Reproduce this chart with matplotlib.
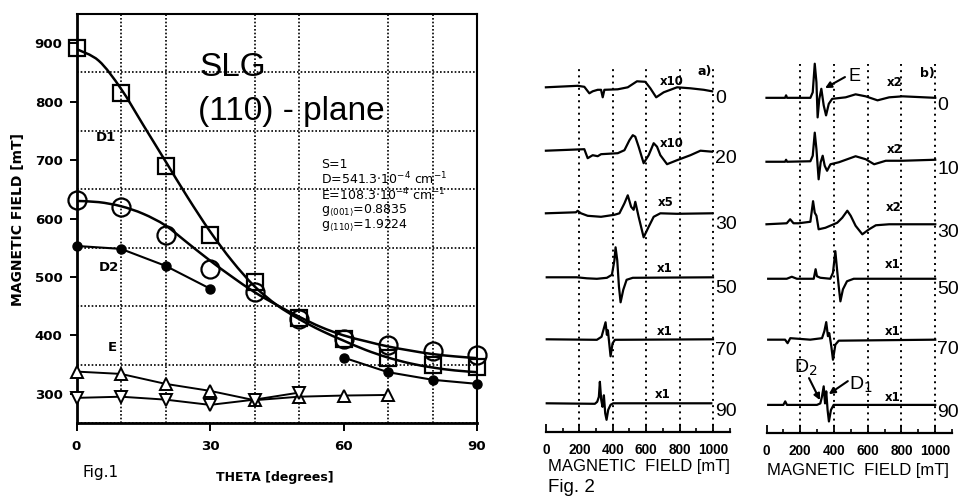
import numpy as np
import matplotlib
matplotlib.use("Agg")
import matplotlib.pyplot as plt
from matplotlib.path import Path
from matplotlib.patches import PathPatch

plt.rcParams["font.family"] = ["Liberation Sans", "DejaVu Sans"]
plt.rcParams["mathtext.fontset"] = "custom"
plt.rcParams["mathtext.rm"] = "DejaVu Sans"
plt.rcParams["mathtext.it"] = "DejaVu Sans:italic"
plt.rcParams["mathtext.bf"] = "DejaVu Sans:bold"

# ---------------- Fig.1 data ----------------
THETA = [0, 10, 20, 30, 40, 50, 60, 70, 80, 90]
SQUARE = [891, 815, 690, 572, 492, 430, 394, 362, 350, 345]
CIRCLE = [631, 619, 571, 514, 474, 428, 394, 384, 373, 367]
D2_THETA_LOW = [0, 10, 20, 30]
D2_LOW = [553, 548, 519, 480]
D2_THETA_HIGH = [60, 70, 80, 90]
D2_HIGH = [362, 337, 324, 317]
E_UP_THETA = [0, 10, 20, 30, 40, 50, 60, 70]
E_UP = [338, 334, 317, 305, 289, 295, 297, 298]
E_DOWN_THETA = [0, 10, 20, 30, 40, 50]
E_DOWN = [293, 295, 290, 281, 290, 302]
FIT_THETA = [0, 5, 10, 15, 20, 25, 30, 35, 40, 45, 50, 55, 60, 65, 70, 75, 80, 85, 90]
SQUARE_FIT = [890, 870, 822, 760, 698, 636, 578, 527, 484, 452, 428, 408, 391, 375, 362, 352, 345, 340, 337]
CIRCLE_FIT = [630, 628, 621, 608, 588, 558, 528, 500, 474, 452, 432, 414, 400, 390, 381, 374, 368, 364, 361]
FIG1_XTICKS = [0, 30, 60, 90]
FIG1_YTICKS = [300, 400, 500, 600, 700, 800, 900]
PARAM_LINES = ["S=1",
               r"D=541.3$\cdot$10$^{-4}$ cm$^{-1}$",
               r"E=108.3$\cdot$10$^{-4}$ cm$^{-1}$",
               r"g$_{\langle001\rangle}$=0.8835",
               r"g$_{\langle110\rangle}$=1.9224"]

# ---------------- Fig.2 data (field in mT, signal in arbitrary units) ----------------
A_ANGLES = ["0", "20", "30", "50", "70", "90"]
A_GAINS = ["x10", "x10", "x5", "x1", "x1", "x1"]
A0_F = [0, 190, 230, 260, 280, 310, 330, 340, 350, 430, 490, 545, 595, 625, 660, 705, 785, 865, 945, 995]
A0_Y = [0, 1.5, 0.5, -6, -4, -2.5, -2.5, -10, -2.5, -2, 0, 6, 5.5, -1, -10, -5, 0, -1, -2.5, -4]
A20_F = [0, 230, 250, 280, 310, 330, 430, 470, 500, 520, 535, 555, 585, 615, 645, 665, 685, 725, 785, 865, 925, 995]
A20_Y = [0, 1.5, -7.5, -4.5, -5.5, -3.5, -2.5, 0.5, 10.5, 15.5, 14, 4, -12.5, -4.5, 7.5, 4, -4.5, -13.5, -9.5, -4.5, 0, -1]
A30_F = [0, 180, 190, 210, 250, 330, 410, 440, 470, 490, 510, 525, 535, 555, 585, 615, 645, 685, 785, 995]
A30_Y = [0, 1, 2.5, 0, -2.5, -3.5, -1.5, 0, 10, 18, 6.5, 3.5, 11.5, -3.5, -24, -13.5, -3.5, 0, -0.5, 0]
A50_F = [5, 185, 245, 305, 365, 395, 410, 417, 427, 437, 447, 463, 483, 520, 1000]
A50_Y = [0, 0, -1, -1.5, -0.5, 2.5, 17, 30, 17, -9, -25, -12.5, -2.5, -0.5, 0]
A70_F = [5, 305, 333, 347, 357, 365, 371, 379, 387, 399, 413, 1000]
A70_Y = [0, -0.5, 2.5, 11, 17, 4.5, 9, -4, -17, -4, -0.5, 0]
A90_F = [5, 293, 307, 317, 323, 331, 339, 347, 355, 363, 373, 387, 403, 990]
A90_Y = [0, -0.5, 1.5, 6.5, 21.5, 3.5, -3.5, 8, -10, -16.5, -6.5, -1.5, 0, 0]

B_ANGLES = ["0", "10", "30", "50", "70", "90"]
B_GAINS = ["x2", "x2", "x2", "x1", "x1", "x1"]
B0_F = [0, 110, 116, 122, 260, 274, 286, 296, 303, 313, 325, 339, 353, 369, 389, 469, 528, 588, 658, 727, 807, 1000]
B0_Y = [0, 0, 2.5, 0, 0, 5.5, 34, 15.5, -19.5, -1, 9, -7.5, -17.5, -6, -1, 0.5, 3.5, 1.5, -2.5, 0.5, 1.5, 0]
B10_F = [0, 110, 116, 122, 260, 274, 286, 296, 309, 321, 333, 345, 359, 379, 429, 528, 588, 638, 707, 807, 1000]
B10_Y = [0, 0, 2, 0, 0.5, 6, 29, 12.5, -17.5, -0.5, 6, -4, -9, -2.5, -0.5, 5.5, 2.5, -2.5, 1, 1, 2]
B30_F = [0, 120, 140, 160, 190, 260, 276, 286, 296, 309, 349, 419, 449, 479, 499, 528, 568, 608, 648, 727, 1000]
B30_Y = [0, 1, 5, 1, 1, 2.5, 23, 11.5, 8.5, -5, -3.5, 1.5, 6.5, 13.5, 8.5, -1.5, -10, -5, -1, 0, 0]
B50_F = [10, 120, 150, 180, 280, 291, 299, 319, 378, 394, 408, 418, 428, 438, 453, 477, 517, 1000]
B50_Y = [0, 0, 2, 0, 0, 9.5, 2.5, 1, 0, 6, 27.5, 9.5, -7.5, -22.5, -10.5, -2.5, 0, 0]
B70_F = [10, 110, 125, 141, 259, 329, 343, 354, 364, 372, 384, 394, 408, 428, 1000]
B70_Y = [0, 0, -3.5, 1.5, 0, 1.5, 8.5, 17.5, 3.5, 6.5, -6.5, -20, -5, -1, 0]
B90_F = [10, 100, 111, 121, 299, 319, 329, 339, 347, 354, 362, 370, 382, 398, 1000]
B90_Y = [0, 0, 3.5, 0, 0, 1.5, 8.5, 18.5, 1.5, 13.5, -5, -16.5, -5, 0, 0]
FIELD_TICKS = [0, 200, 400, 600, 800, 1000]

# ---------------- layout ----------------
W, H = 961, 501
fig = plt.figure(figsize=(W / 100, H / 100), dpi=100)


def rect(x0, ytop, x1, ybot):
    return [x0 / W, 1 - ybot / H, (x1 - x0) / W, (ybot - ytop) / H]


def smooth_path(xs, ys):
    P = np.column_stack([xs, ys]).astype(float)
    n = len(P)
    verts = [P[0]]
    codes = [Path.MOVETO]
    for i in range(n - 1):
        p0 = P[i - 1] if i > 0 else P[i]
        p1, p2 = P[i], P[i + 1]
        p3 = P[i + 2] if i + 2 < n else P[i + 1]
        verts += [p1 + (p2 - p0) / 6.0, p2 - (p3 - p1) / 6.0, p2]
        codes += [Path.CURVE4] * 3
    return Path(verts, codes)


# ================= Fig.1 =================
ax = fig.add_axes(rect(76.5, 14, 477, 423))
ax.set_xlim(0, 90)
ax.set_ylim(250, 950)
ax.set_xticks(FIG1_XTICKS)
ax.set_yticks(FIG1_YTICKS)
ax.set_xticks(range(0, 91, 10), minor=True)
ax.set_yticks(range(250, 951, 50), minor=True)
ax.grid(which="minor", color="k", linestyle=(0, (1, 1.2)), linewidth=1.2)
ax.set_axisbelow(True)
ax.tick_params(which="minor", length=0)
ax.tick_params(which="major", direction="out", width=1.4, color="k")
ax.tick_params(axis="x", which="major", length=6, pad=6)
ax.tick_params(axis="y", which="major", length=5, pad=5)
for lab in ax.get_xticklabels() + ax.get_yticklabels():
    lab.set_fontfamily("DejaVu Sans")
    lab.set_fontweight("bold")
    lab.set_fontsize(9.6)
for s in ax.spines.values():
    s.set_linewidth(1.5)
ax.spines["left"].set_linewidth(2.0)
ax.spines["bottom"].set_linewidth(2.0)

ax.add_patch(PathPatch(smooth_path(FIT_THETA, SQUARE_FIT), fill=False, lw=1.8, color="k", zorder=3))
ax.add_patch(PathPatch(smooth_path(FIT_THETA, CIRCLE_FIT), fill=False, lw=1.8, color="k", zorder=3))
ax.plot(THETA, SQUARE, ls="none", marker="s", ms=12, mfc="none", mec="k", mew=1.6, zorder=4, clip_on=False)
ax.plot(THETA, CIRCLE, ls="none", marker="o", ms=13, mfc="none", mec="k", mew=1.6, zorder=4, clip_on=False)
ax.plot(D2_THETA_LOW, D2_LOW, "k-", lw=1.5, marker="o", ms=6.5, zorder=4, clip_on=False)
ax.plot(D2_THETA_HIGH, D2_HIGH, "k-", lw=1.5, marker="o", ms=6.5, zorder=4, clip_on=False)
ax.plot(E_UP_THETA, E_UP, "k-", lw=1.4, marker="^", ms=8, mfc="white", mec="k", mew=1.4, zorder=4, clip_on=False)
ax.plot(E_DOWN_THETA, E_DOWN, "k-", lw=1.4, marker="v", ms=8, mfc="white", mec="k", mew=1.4, zorder=4, clip_on=False)

ax.text(35.1, 858, "SLG", fontsize=24, ha="center", va="center", zorder=5)
ax.text(27.3, 783, "(110) - plane", fontsize=24, ha="left", va="center", zorder=5)
for lbl, (tx, ty) in zip(["D1", "D2", "E"], [(6.6, 738), (7.3, 516), (8.0, 380)]):
    ax.text(tx, ty, lbl, fontsize=9.5, fontweight="bold", family="DejaVu Sans", ha="center", va="center")
for txt, ty in zip(PARAM_LINES, [693, 667, 641, 615, 589]):
    ax.text(55.0, ty, txt, fontsize=9, family="DejaVu Sans", ha="left", va="center", zorder=5)

fig.text(18 / W, 1 - 220 / H, "MAGNETIC FIELD [mT]", rotation=90, ha="center", va="center",
         fontsize=10, fontweight="bold", family="DejaVu Sans")
fig.text(275 / W, 1 - 477 / H, "THETA [degrees]", ha="center", va="center",
         fontsize=9, fontweight="bold", family="DejaVu Sans")
fig.text(83 / W, 1 - 473 / H, "Fig.1", ha="left", va="center", fontsize=11, family="DejaVu Sans")


# ================= Fig.2 =================
def spectra(rect_px, fields, sigs, offsets, angles, gains, gain_pos, label_dy, panel_lbl, panel_pos, grid_top):
    a = fig.add_axes(rect(*rect_px))
    a.set_xlim(0, 1100)
    a.set_ylim(0, 372)
    a.patch.set_visible(False)
    for k in ("left", "top", "right"):
        a.spines[k].set_visible(False)
    a.spines["bottom"].set_linewidth(1.6)
    a.set_yticks([])
    a.set_xticks(FIELD_TICKS)
    a.set_xticks(range(100, 1101, 200), minor=True)
    a.tick_params(axis="x", which="major", direction="in", length=6, width=1.3, pad=8)
    a.tick_params(axis="x", which="minor", direction="in", length=3, width=1.2)
    for lab in a.get_xticklabels():
        lab.set_fontweight("bold")
        lab.set_fontsize(9.8)
    a.vlines(FIELD_TICKS[1:], 0, grid_top, colors="k", linestyles=(0, (1, 2.2)), linewidth=1.4)
    for f, s, off, ang, g, gp, dy in zip(fields, sigs, offsets, angles, gains, gain_pos, label_dy):
        a.plot(f, np.asarray(s) + off, color="k", lw=1.6, clip_on=False, zorder=3)
        a.text(1012, off + dy, ang, fontsize=14, ha="left", va="center", clip_on=False)
        a.text(gp[0], off + gp[1], g, fontsize=8.5, fontweight="bold", family="DejaVu Sans",
               ha="center", va="center", zorder=4)
    a.text(panel_pos[0], panel_pos[1], panel_lbl, fontsize=9, fontweight="bold",
           family="DejaVu Sans", ha="center", va="center")
    return a


axa = spectra((545.9, 60, 729.7, 432),
              [A0_F, A20_F, A30_F, A50_F, A70_F, A90_F],
              [A0_Y, A20_Y, A30_Y, A50_Y, A70_Y, A90_Y],
              [344.7, 281.3, 218.7, 154.7, 92.7, 28.7],
              A_ANGLES, A_GAINS,
              [(755, 6), (755, 7), (719, 11), (713, 9), (713, 8), (701, 9)],
              [-11, -8, -11, -11, -11, -8],
              "a)", (953, 361), 365)

axb = spectra((766.5, 60, 952.1, 433.3),
              [B0_F, B10_F, B30_F, B50_F, B70_F, B90_F],
              [B0_Y, B10_Y, B30_Y, B50_Y, B70_Y, B90_Y],
              [334.3, 270.6, 208.3, 154.0, 93.3, 28.3],
              B_ANGLES, B_GAINS,
              [(761, 15), (761, 12), (755, 17), (750, 14), (750, 8), (750, 7)],
              [-8, -8, -8, -11, -10, -8],
              "b)", (951, 359), 368)

arrow = dict(arrowstyle="-|>", lw=1.5, color="k", mutation_scale=9, shrinkA=0, shrinkB=0)
axb.text(524, 356, "E", fontsize=13, ha="center", va="center")
axb.annotate("", xy=(347, 344), xytext=(465, 355), arrowprops=arrow)
axb.text(234, 65, r"D$_2$", fontsize=14, ha="center", va="center")
axb.annotate("", xy=(317, 33), xytext=(252, 55), arrowprops=arrow)
axb.text(559, 48, r"D$_1$", fontsize=14, ha="center", va="center")
axb.annotate("", xy=(369, 39), xytext=(482, 52), arrowprops=arrow)

fig.text(639 / W, 1 - 467 / H, "MAGNETIC  FIELD [mT]", ha="center", va="center", fontsize=12)
fig.text(858 / W, 1 - 470 / H, "MAGNETIC  FIELD [mT]", ha="center", va="center", fontsize=12)
fig.text(548 / W, 1 - 488 / H, "Fig. 2", ha="left", va="center", fontsize=13.5)

fig.savefig("out.png", dpi=100)
